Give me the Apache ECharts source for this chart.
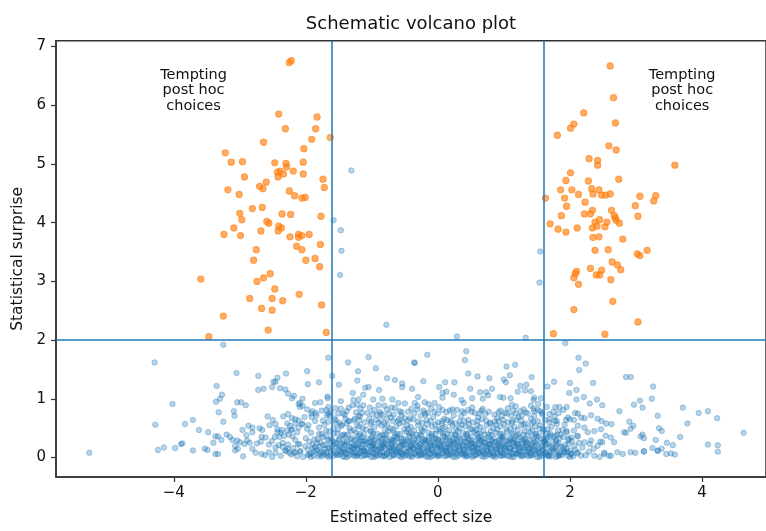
<!DOCTYPE html>
<html>
<head>
<meta charset="utf-8">
<script src="https://cdn.jsdelivr.net/npm/echarts@6/dist/echarts.min.js"></script>
<style>
html,body{margin:0;padding:0;background:#fff;}
#c{width:766px;height:531px;}
</style>
</head>
<body>
<div id="c"></div>
<script>
// ---- data (effect size, surprise) ----
const xTicks = [-4, -2, 0, 2, 4];
const yTicks = [0, 1, 2, 3, 4, 5, 6, 7];
const effectThresholds = [-1.6, 1.6];
const surpriseThreshold = 2;
const noteText = 'Tempting\npost hoc\nchoices';
const notePositions = [[-3.7, 6.25], [3.7, 6.25]];

const orangeLeft = [
[-2.25,6.73],[-2.22,6.76],[-2.41,5.85],[-1.83,5.80],[-2.31,5.60],[-1.85,5.60],[-1.63,5.45],[-1.91,5.42],[-2.64,5.37],[-2.03,5.26],
[-3.22,5.19],[-3.13,5.03],[-2.96,5.04],[-2.47,5.02],[-2.30,5.01],[-2.04,5.03],[-2.29,4.95],[-2.19,4.88],[-2.43,4.86],[-2.39,4.88],
[-2.34,4.83],[-2.42,4.78],[-2.04,4.83],[-2.93,4.78],[-2.60,4.69],[-2.70,4.62],[-2.65,4.58],[-1.74,4.74],[-1.72,4.60],[-3.18,4.56],
[-3.01,4.48],[-2.25,4.54],[-2.17,4.46],[-2.06,4.42],[-2.01,4.43],[-3.00,4.16],[-2.81,4.24],[-2.66,4.26],[-2.97,4.05],[-2.36,4.15],
[-2.23,4.14],[-1.77,4.11],[-2.59,4.02],[-2.56,3.99],[-3.09,3.91],[-2.41,3.94],[-2.37,3.91],[-2.42,3.86],[-2.68,3.86],[-3.24,3.80],
[-2.99,3.78],[-2.11,3.80],[-2.06,3.78],[-2.11,3.75],[-1.95,3.80],[-2.24,3.76],[-2.75,3.54],[-2.14,3.60],[-2.06,3.54],[-1.78,3.63],
[-2.79,3.36],[-2.00,3.36],[-1.86,3.39],[-1.79,3.25],[-3.59,3.04],[-2.54,3.13],[-2.64,3.06],[-2.74,3.00],[-2.47,2.87],[-2.85,2.71],
[-2.51,2.71],[-2.35,2.67],[-2.10,2.78],[-2.67,2.54],[-2.51,2.51],[-1.76,2.60],[-3.25,2.41],[-3.47,2.06],[-2.57,2.17],[-1.69,2.13]
];
const orangeRight = [
[2.61,6.67],[2.66,6.13],[2.21,5.87],[2.69,5.70],[2.06,5.68],[2.01,5.61],[1.81,5.49],[2.59,5.31],[2.70,5.24],[2.29,5.09],
[2.42,5.06],[2.42,4.98],[3.59,4.98],[2.01,4.85],[1.94,4.72],[2.28,4.71],[2.74,4.74],[1.86,4.56],[2.03,4.56],[2.33,4.58],
[2.35,4.49],[2.44,4.56],[2.13,4.48],[2.48,4.47],[2.54,4.47],[2.61,4.49],[3.06,4.45],[3.30,4.46],[1.63,4.42],[1.92,4.42],
[3.27,4.37],[2.99,4.29],[1.95,4.28],[2.23,4.35],[3.03,4.11],[1.87,4.12],[2.22,4.15],[2.31,4.15],[2.34,4.21],[2.63,4.21],
[2.67,4.12],[2.69,4.08],[2.70,4.04],[2.75,3.99],[2.45,4.05],[2.38,4.01],[2.41,3.94],[2.34,3.91],[2.53,3.93],[2.56,4.01],
[1.70,3.98],[1.82,3.89],[1.94,3.84],[2.11,3.91],[2.35,3.75],[2.44,3.76],[2.80,3.72],[2.38,3.53],[2.58,3.54],[3.02,3.47],
[3.06,3.44],[3.17,3.53],[2.64,3.33],[2.72,3.28],[2.77,3.20],[2.31,3.22],[2.48,3.19],[2.40,3.11],[2.45,3.11],[2.10,3.17],
[2.08,3.13],[2.06,3.06],[2.62,3.03],[2.13,2.95],[2.65,2.66],[2.06,2.52],[3.03,2.31],[1.75,2.11],[2.53,2.10]
];

// blue points read from the sparse parts of the cloud
const blueOuter = [
[-1.58,4.04],[-1.47,3.87],[-1.46,3.52],[-1.48,3.11],[-1.31,4.89],[1.55,3.51],[1.54,2.98],[-0.78,2.26],[0.29,2.06],[1.33,2.04],[-3.25,1.92],[1.93,1.95],
[-4.29,1.62],[-4.02,0.91],[-4.28,0.56],[-5.28,0.08],[-4.24,0.13],[-4.15,0.17],[-3.98,0.16],[-3.89,0.23],
[-3.05,1.44],[-2.72,1.39],[-2.30,1.43],[-2.43,1.36],[-2.49,1.29],[-2.46,1.29],[-2.51,1.20],[-3.35,1.22],[-2.39,1.18],[-2.31,1.16],[-2.72,1.15],[-2.64,1.17],[-2.27,1.09],[-2.18,1.05],[-2.21,1.01],[-3.27,1.07],[-3.30,1.00],[-3.36,0.95],[-3.04,0.94],[-2.98,0.94],[-2.91,0.89],[-3.09,0.79],[-3.32,0.77],[-3.08,0.71],[-3.25,0.61],[-2.58,0.70],[-2.50,0.64],[-2.34,0.70],[-2.27,0.74],[-2.21,0.67],[-3.71,0.64],[-3.83,0.57],[-3.62,0.47],[-3.48,0.43],[-2.87,0.54],[-2.81,0.51],[-2.70,0.50],[-2.81,0.43],[-2.96,0.47],[-2.55,0.55],[-2.46,0.57],[-2.43,0.48],[-2.66,0.47],[-3.20,0.39],[-3.15,0.35],[-3.11,0.30],[-2.90,0.38],[-3.37,0.36],[-3.33,0.36],[-3.40,0.25],[-3.28,0.30],[-3.87,0.24],[-3.71,0.12],[-3.53,0.15],[-3.49,0.13],[-3.37,0.06],[-3.33,0.06],[-3.07,0.20],[-3.03,0.15],[-3.07,0.12],[-3.00,0.26],[-2.93,0.23],[-3.04,0.29],[-2.89,0.29],[-2.85,0.25],[-2.81,0.15],[-2.76,0.08],[-2.67,0.06],[-2.67,0.35],[-2.61,0.34],[-2.68,0.27],[-2.74,0.24],[-2.56,0.22],[-2.51,0.28],[-2.47,0.35],[-2.40,0.35],[-2.38,0.42],[-2.33,0.37],[-2.26,0.39],[-2.20,0.36],[-2.13,0.43],[-2.16,0.30],[-2.41,0.21],[-2.35,0.18],[-2.27,0.22],[-2.19,0.16],[-2.12,0.22],[-2.31,0.12],[-2.25,0.08],[-2.16,0.09],[-2.09,0.11],[-2.46,0.08],[-2.28,0.58],[-2.24,0.54],[-2.16,0.58],[-2.11,0.51],[-2.21,0.48],[-2.28,0.46],[-2.36,0.47],[-2.43,0.43],[-2.11,0.91],[-2.09,0.86],
[-1.66,1.70],[-1.98,1.47],[-1.97,1.25],[-1.80,1.28],[-1.60,1.39],[-1.36,1.62],[-1.05,1.71],[-1.21,1.47],[-0.94,1.52],[-1.22,1.31],[-1.50,1.24],[-0.36,1.62],[-0.77,1.35],[-0.65,1.32],[-0.54,1.26],[-0.54,1.20],[-0.39,1.17],[-1.10,1.19],[-1.05,1.20],[-0.89,1.15],[-1.29,1.10],[-1.13,1.07],[-1.67,1.04],[-1.67,1.01],[-2.05,1.00],[-2.09,0.93],[-2.05,0.88],[-1.86,0.93],[-1.78,0.94],[-1.90,0.79],[-1.92,0.75],[-1.66,0.86],[-1.69,0.81],[-1.66,0.75],[-1.47,0.96],[-1.28,0.98],[-1.20,0.99],[-0.98,0.99],[-0.84,1.00],[-0.69,0.99],[-0.60,0.93],[-0.50,0.92],[-1.29,0.89],[-1.22,0.90],[-1.13,0.89],[-1.03,0.85],[-0.90,0.89],[-0.81,0.88],[-0.77,0.82],[-0.65,0.84],[-1.35,0.85],[-1.47,0.83],[-1.51,0.75],[-0.99,0.74],[-0.92,0.72],[-0.83,0.73],[-0.77,0.66],[-0.67,0.73],[-0.59,0.65],[-0.50,0.67],[-0.45,0.78],[-0.36,0.75],[-0.31,0.82],[-1.20,0.71],[-1.15,0.76],[-1.26,0.66],[-1.34,0.62],[-1.40,0.66],[-1.45,0.56],[-1.54,0.58],[-2.16,0.65],[-2.11,0.63],[-2.06,0.57],[-1.96,0.55],[-1.86,0.62],[-1.91,0.69],[-1.68,0.72],[-1.64,0.71],
[-0.16,1.75],[0.43,1.81],[0.41,1.66],[-0.35,1.61],[-0.22,1.30],[0.46,1.43],[0.60,1.38],[0.78,1.35],[0.11,1.28],[0.25,1.28],[0.02,1.20],[0.13,1.12],[0.07,1.10],[0.07,1.02],[0.24,1.07],[0.49,1.17],[0.52,1.01],[0.64,1.11],[0.73,1.11],[0.76,1.06],[0.82,1.17],[0.68,1.00],[1.04,1.55],[1.17,1.58],[1.09,1.40],[1.00,1.33],[1.03,1.28],[1.42,1.37],[1.25,1.22],[1.34,1.24],[1.32,1.14],[1.41,1.13],[1.45,0.98],[1.21,1.12],[0.94,1.03],[0.99,1.02],[1.10,1.01],[1.12,0.90],[1.18,0.87],[1.25,0.79],[1.41,0.88],[1.45,0.83],[-0.35,0.93],[-0.31,0.88],[-0.30,1.03],[-0.20,0.94],[-0.14,0.91],[-0.05,0.93],[0.36,0.98],[0.39,0.93],[0.29,0.81],[0.18,0.80],[0.07,0.81],[-0.05,0.78],[-0.15,0.76],[-0.26,0.71],[0.46,0.81],[0.56,0.76],[0.66,0.80],[0.77,0.78],[0.86,0.73],[0.97,0.71],[1.05,0.75],[1.14,0.80],[1.27,0.71],[1.36,0.75],[1.46,0.71],
[2.13,1.70],[2.24,1.60],[2.14,1.49],[2.85,1.37],[2.92,1.37],[1.76,1.29],[2.00,1.27],[2.35,1.27],[1.66,1.21],[3.26,1.21],[2.10,1.15],[1.99,1.10],[2.21,1.03],[2.10,0.99],[2.41,0.99],[3.24,1.00],[3.06,0.97],[2.30,0.92],[2.49,0.89],[2.97,0.90],[3.10,0.85],[1.46,1.02],[1.56,1.01],[1.52,0.91],[1.51,0.81],[1.46,0.79],[1.78,0.86],[1.84,0.86],[1.95,0.86],[1.83,0.76],[1.69,0.74],[1.69,0.65],[1.77,0.62],[2.08,0.76],[2.12,0.75],[2.17,0.68],[1.94,0.64],[2.00,0.65],[2.06,0.64],[2.22,0.67],[2.32,0.72],[2.42,0.66],[2.48,0.62],[2.55,0.58],[2.63,0.57],[2.75,0.79],[2.90,0.61],[2.96,0.54],[3.33,0.71],[2.82,0.43],[2.85,0.42],[3.07,0.36],[3.10,0.39],[2.92,0.49],[2.12,0.54],[2.22,0.51],[2.27,0.43],[2.37,0.45],[2.47,0.48],[2.54,0.37],[2.62,0.34],[2.67,0.26],[2.49,0.26],[2.42,0.20],[2.32,0.29],[2.22,0.26],[2.11,0.37],[2.02,0.34],[1.95,0.43],[1.82,0.46],[1.77,0.37],[1.66,0.34],[1.61,0.26],[2.37,0.03],[2.52,0.06],[2.59,0.03],[2.72,0.09],[2.80,0.06],[2.92,0.09],[2.99,0.08],[3.12,0.10],[3.25,0.16],[3.33,0.12],[2.12,0.09],[2.17,0.03],[2.02,0.06],[1.92,0.09],[1.82,0.03],[1.71,0.09],[1.66,0.03],
[3.71,0.85],[3.95,0.76],[4.09,0.79],[4.23,0.67],[3.78,0.58],[3.35,0.50],[3.39,0.45],[4.63,0.42],[3.67,0.35],[3.12,0.33],[3.30,0.30],[3.47,0.25],[3.56,0.21],[4.09,0.22],[4.24,0.21],[4.24,0.10],[3.33,0.11],[3.39,0.15],[3.12,0.11],[3.46,0.06],[3.53,0.07],[3.59,0.05]
];

// blue points estimated in the dense core of the cloud
const blueCore = [
[-2.95,0.02],[-2.62,0.04],[-2.51,0.01],[-2.38,0.03],[-2.22,0.05],[-2.13,0.02],[-2.04,0.01],[-1.97,0.04],[-1.88,0.03],[-1.81,0.02],[-1.73,0.05],[-1.66,0.01],[-1.58,0.03],[-1.51,0.04],[-1.44,0.02],[-1.37,0.01],[-1.29,0.05],[-1.22,0.03],[-1.16,0.02],[-1.08,0.04],[-1.01,0.01],[-0.94,0.03],[-0.87,0.05],[-0.80,0.02],[-0.73,0.01],[-0.66,0.04],[-0.59,0.03],[-0.52,0.02],[-0.46,0.05],[-0.39,0.01],[-0.31,0.03],[-0.25,0.04],[-0.18,0.02],[-0.11,0.01],[-0.04,0.05],[0.03,0.03],[0.10,0.02],[0.17,0.04],[0.23,0.01],[0.31,0.03],[0.38,0.05],[0.44,0.02],[0.52,0.01],[0.58,0.04],[0.66,0.03],[0.73,0.02],[0.79,0.05],[0.87,0.01],[0.94,0.03],[1.01,0.04],[1.08,0.02],[1.15,0.01],[1.22,0.05],[1.29,0.03],[1.36,0.02],[1.43,0.04],[1.50,0.01],[1.57,0.03],[1.64,0.05],[1.72,0.02],[1.79,0.01],[1.88,0.04],[1.97,0.03],[2.05,0.02],[2.24,0.04],[2.45,0.01],[2.62,0.03],
[-2.56,0.09],[-2.30,0.11],[-2.18,0.08],[-2.08,0.10],[-1.93,0.07],[-1.85,0.12],[-1.77,0.09],[-1.69,0.08],[-1.62,0.11],[-1.55,0.07],[-1.47,0.10],[-1.40,0.09],[-1.33,0.12],[-1.26,0.08],[-1.19,0.07],[-1.12,0.11],[-1.05,0.10],[-0.98,0.08],[-0.91,0.12],[-0.84,0.09],[-0.77,0.07],[-0.70,0.10],[-0.63,0.11],[-0.56,0.08],[-0.49,0.09],[-0.42,0.12],[-0.35,0.07],[-0.28,0.10],[-0.21,0.08],[-0.14,0.11],[-0.07,0.09],[0.00,0.07],[0.07,0.12],[0.14,0.10],[0.20,0.08],[0.27,0.09],[0.34,0.11],[0.41,0.07],[0.48,0.10],[0.55,0.12],[0.62,0.08],[0.69,0.09],[0.76,0.11],[0.83,0.07],[0.90,0.10],[0.97,0.08],[1.04,0.12],[1.11,0.09],[1.18,0.07],[1.25,0.11],[1.33,0.10],[1.40,0.08],[1.47,0.12],[1.54,0.09],[1.61,0.07],[1.68,0.10],[1.76,0.11],[1.84,0.08],[1.92,0.09],[2.01,0.12],[2.11,0.07],[2.29,0.10],[2.52,0.08],
[-2.46,0.17],[-2.27,0.15],[-2.01,0.19],[-1.90,0.16],[-1.79,0.18],[-1.71,0.14],[-1.60,0.20],[-1.53,0.17],[-1.45,0.15],[-1.35,0.19],[-1.28,0.16],[-1.20,0.18],[-1.13,0.14],[-1.03,0.20],[-0.96,0.17],[-0.89,0.15],[-0.82,0.19],[-0.74,0.16],[-0.67,0.18],[-0.61,0.14],[-0.53,0.20],[-0.44,0.17],[-0.37,0.15],[-0.30,0.19],[-0.22,0.16],[-0.16,0.18],[-0.09,0.14],[-0.02,0.20],[0.05,0.17],[0.12,0.15],[0.19,0.19],[0.25,0.16],[0.33,0.18],[0.40,0.14],[0.46,0.20],[0.54,0.17],[0.60,0.15],[0.68,0.19],[0.75,0.16],[0.81,0.18],[0.89,0.14],[0.96,0.20],[1.02,0.17],[1.10,0.15],[1.17,0.19],[1.24,0.16],[1.31,0.18],[1.39,0.14],[1.45,0.20],[1.53,0.17],[1.60,0.15],[1.69,0.19],[1.77,0.16],[1.86,0.18],[1.95,0.14],[2.07,0.20],[2.19,0.17],[2.36,0.15],
[-2.35,0.25],[-2.10,0.23],[-1.95,0.27],[-1.83,0.24],[-1.70,0.22],[-1.63,0.28],[-1.54,0.25],[-1.46,0.23],[-1.38,0.27],[-1.30,0.24],[-1.21,0.22],[-1.14,0.28],[-1.06,0.25],[-0.99,0.23],[-0.90,0.27],[-0.83,0.24],[-0.76,0.22],[-0.68,0.28],[-0.60,0.25],[-0.51,0.23],[-0.43,0.27],[-0.36,0.24],[-0.27,0.22],[-0.19,0.28],[-0.12,0.25],[-0.05,0.23],[0.02,0.27],[0.09,0.24],[0.16,0.22],[0.22,0.28],[0.29,0.25],[0.37,0.23],[0.43,0.27],[0.51,0.24],[0.57,0.22],[0.64,0.28],[0.72,0.25],[0.78,0.23],[0.86,0.27],[0.92,0.24],[0.99,0.22],[1.07,0.28],[1.13,0.25],[1.21,0.23],[1.28,0.27],[1.35,0.24],[1.42,0.22],[1.50,0.28],[1.58,0.25],[1.66,0.23],[1.74,0.27],[1.83,0.24],[1.93,0.22],[2.03,0.28],[2.14,0.25],[2.30,0.23],[2.46,0.27],
[-2.00,0.33],[-1.87,0.31],[-1.74,0.35],[-1.61,0.32],[-1.50,0.30],[-1.41,0.36],[-1.31,0.33],[-1.23,0.31],[-1.15,0.35],[-1.07,0.32],[-0.97,0.30],[-0.88,0.36],[-0.79,0.33],[-0.71,0.31],[-0.62,0.35],[-0.55,0.32],[-0.47,0.30],[-0.38,0.36],[-0.29,0.33],[-0.21,0.31],[-0.13,0.35],[-0.06,0.32],[0.01,0.30],[0.08,0.36],[0.15,0.33],[0.24,0.31],[0.31,0.35],[0.39,0.32],[0.47,0.30],[0.53,0.36],[0.61,0.33],[0.70,0.31],[0.77,0.35],[0.85,0.32],[0.93,0.30],[1.00,0.36],[1.09,0.33],[1.16,0.31],[1.23,0.35],[1.32,0.32],[1.40,0.30],[1.48,0.36],[1.56,0.33],[1.65,0.31],[1.75,0.35],[1.84,0.32],[1.98,0.30],[2.12,0.36],
[-1.92,0.42],[-1.76,0.40],[-1.64,0.44],[-1.52,0.41],[-1.42,0.39],[-1.32,0.45],[-1.24,0.42],[-1.12,0.40],[-1.02,0.44],[-0.93,0.41],[-0.85,0.39],[-0.75,0.45],[-0.66,0.42],[-0.57,0.40],[-0.48,0.44],[-0.40,0.41],[-0.32,0.39],[-0.23,0.45],[-0.14,0.42],[-0.04,0.40],[0.04,0.44],[0.13,0.41],[0.21,0.39],[0.30,0.45],[0.38,0.42],[0.45,0.40],[0.55,0.44],[0.63,0.41],[0.71,0.39],[0.80,0.45],[0.88,0.42],[0.97,0.40],[1.05,0.44],[1.14,0.41],[1.22,0.39],[1.31,0.45],[1.40,0.42],[1.49,0.40],[1.59,0.44],[1.70,0.41],[1.81,0.39],[1.95,0.45],
[-1.80,0.51],[-1.58,0.49],[-1.46,0.54],[-1.34,0.50],[-1.19,0.53],[-1.09,0.48],[-0.96,0.52],[-0.86,0.55],[-0.72,0.50],[-0.63,0.53],[-0.51,0.48],[-0.41,0.52],[-0.30,0.55],[-0.20,0.50],[-0.09,0.53],[0.02,0.48],[0.11,0.52],[0.22,0.55],[0.33,0.50],[0.42,0.53],[0.52,0.48],[0.64,0.52],[0.74,0.55],[0.84,0.50],[0.95,0.53],[1.04,0.48],[1.16,0.52],[1.26,0.55],[1.37,0.50],[1.47,0.53],[1.60,0.48],[1.72,0.52],
[-1.66,0.61],[-1.49,0.59],[-1.27,0.63],[-1.11,0.60],[-0.94,0.64],[-0.81,0.58],[-0.68,0.62],[-0.53,0.60],[-0.37,0.65],[-0.24,0.59],[-0.11,0.62],[0.00,0.60],[0.14,0.64],[0.27,0.58],[0.40,0.62],[0.53,0.60],[0.67,0.65],[0.79,0.59],[0.92,0.62],[1.06,0.60],[1.19,0.64],[1.33,0.58],[1.51,0.62],[1.69,0.60],
[-1.48,0.06],[-1.34,0.04],[-1.20,0.07],[-1.05,0.05],[-0.91,0.03],[-0.77,0.06],[-0.62,0.08],[-0.49,0.04],[-0.35,0.06],[-0.21,0.05],[-0.08,0.03],[0.06,0.07],[0.20,0.05],[0.35,0.06],[0.48,0.04],[0.62,0.08],[0.76,0.05],[0.90,0.06],[1.05,0.03],[1.19,0.07],[1.33,0.05],[1.47,0.06],
[-1.42,0.13],[-1.27,0.15],[-1.12,0.12],[-0.99,0.14],[-0.85,0.16],[-0.71,0.13],[-0.57,0.11],[-0.43,0.15],[-0.29,0.13],[-0.15,0.14],[-0.01,0.16],[0.12,0.12],[0.26,0.14],[0.39,0.13],[0.53,0.15],[0.67,0.11],[0.81,0.14],[0.95,0.13],[1.09,0.16],[1.23,0.12],[1.38,0.14],[1.52,0.13],
[-1.39,0.22],[-1.24,0.20],[-1.09,0.23],[-0.94,0.21],[-0.79,0.24],[-0.64,0.20],[-0.50,0.22],[-0.34,0.21],[-0.19,0.24],[-0.05,0.20],[0.10,0.22],[0.24,0.23],[0.38,0.20],[0.52,0.24],[0.66,0.21],[0.80,0.22],[0.94,0.20],[1.08,0.23],[1.22,0.21],[1.37,0.24],
[-1.26,0.30],[-1.10,0.28],[-0.94,0.31],[-0.78,0.29],[-0.62,0.32],[-0.45,0.28],[-0.30,0.30],[-0.15,0.29],[0.00,0.31],[0.18,0.28],[0.34,0.32],[0.50,0.29],[0.66,0.30],[0.82,0.28],[0.98,0.31],[1.14,0.29],[1.30,0.30]
];

// further blue points estimated in the crowded middle band
const blueMiddle = [
[-2.02,0.69],[-1.84,0.72],[-1.57,0.67],[-1.41,0.73],[-1.18,0.70],[-1.04,0.66],[-0.87,0.74],[-0.71,0.68],[-0.55,0.71],[-0.42,0.67],[-0.19,0.73],[-0.07,0.69],[0.10,0.66],[0.24,0.72],[0.35,0.70],[0.61,0.68],[0.72,0.74],[0.90,0.67],[1.11,0.71],[1.22,0.69],[1.41,0.66],[1.58,0.73],[1.77,0.70],[1.97,0.68],
[-2.22,0.47],[-1.98,0.49],[-1.69,0.46],[-1.51,0.48],[-1.27,0.47],[-1.14,0.50],[-1.01,0.46],[-0.80,0.48],[-0.68,0.47],[-0.45,0.49],[-0.36,0.46],[-0.25,0.48],[-0.02,0.47],[0.07,0.50],[0.17,0.46],[0.27,0.48],[0.49,0.49],[0.58,0.47],[0.69,0.46],[0.90,0.48],[1.10,0.50],[1.21,0.47],[1.43,0.46],[1.54,0.49],[1.66,0.48],[1.89,0.47],[2.06,0.46],
[-2.05,0.57],[-1.72,0.56],[-1.38,0.58],[-1.22,0.55],[-1.02,0.57],[-0.90,0.59],[-0.77,0.56],[-0.58,0.58],[-0.47,0.55],[-0.16,0.57],[-0.04,0.56],[0.06,0.58],[0.19,0.59],[0.36,0.56],[0.47,0.57],[0.60,0.55],[0.79,0.58],[0.88,0.56],[1.00,0.57],[1.12,0.59],[1.30,0.56],[1.42,0.58],[1.55,0.55],[1.80,0.57],[1.92,0.56],
[-1.98,0.82],[-1.76,0.80],[-1.55,0.84],[-1.38,0.79],[-1.17,0.83],[-0.96,0.81],[-0.70,0.85],[-0.58,0.79],[-0.40,0.83],[-0.22,0.80],[-0.10,0.84],[0.02,0.86],[0.22,0.82],[0.37,0.79],[0.52,0.85],[0.68,0.83],[0.95,0.80],[1.06,0.84],[1.30,0.82],[1.55,0.79],[1.65,0.86],[1.90,0.81],
[-1.92,0.01],[-1.76,0.02],[-1.63,0.03],[-1.41,0.01],[-1.26,0.02],[-1.12,0.03],[-0.97,0.01],[-0.84,0.02],[-0.69,0.03],[-0.56,0.01],[-0.43,0.02],[-0.28,0.03],[-0.15,0.01],[-0.01,0.02],[0.13,0.03],[0.27,0.01],[0.41,0.02],[0.55,0.03],[0.69,0.01],[0.83,0.02],[0.97,0.03],[1.12,0.01],[1.26,0.02],[1.40,0.03],[1.54,0.01],[1.68,0.02],[1.83,0.03],[2.00,0.01],
[-1.88,0.10],[-1.73,0.09],[-1.58,0.11],[-1.44,0.10],[-1.30,0.09],[-1.16,0.11],[-1.02,0.10],[-0.88,0.09],[-0.74,0.11],[-0.60,0.10],[-0.46,0.09],[-0.32,0.11],[-0.18,0.10],[-0.04,0.09],[0.10,0.11],[0.24,0.10],[0.38,0.09],[0.52,0.11],[0.66,0.10],[0.80,0.09],[0.94,0.11],[1.08,0.10],[1.22,0.09],[1.36,0.11],[1.50,0.10],[1.64,0.09],[1.80,0.11],[1.96,0.10],
[-1.86,0.18],[-1.66,0.17],[-1.49,0.19],[-1.31,0.18],[-1.16,0.17],[-1.00,0.19],[-0.86,0.18],[-0.71,0.17],[-0.57,0.19],[-0.41,0.18],[-0.27,0.17],[-0.12,0.19],[0.02,0.18],[0.16,0.17],[0.30,0.19],[0.44,0.18],[0.58,0.17],[0.72,0.19],[0.86,0.18],[1.00,0.17],[1.14,0.19],[1.28,0.18],[1.42,0.17],[1.57,0.19],[1.73,0.18],[1.90,0.17],
[-1.78,0.26],[-1.58,0.27],[-1.42,0.26],[-1.18,0.27],[-1.02,0.26],[-0.86,0.27],[-0.70,0.26],[-0.54,0.27],[-0.38,0.26],[-0.22,0.27],[-0.08,0.26],[0.06,0.27],[0.25,0.26],[0.40,0.27],[0.55,0.26],[0.70,0.27],[0.88,0.26],[1.03,0.27],[1.18,0.26],[1.33,0.27],[1.47,0.26],[1.62,0.27],[1.79,0.26],
[-1.69,0.36],[-1.45,0.38],[-1.20,0.37],[-1.00,0.35],[-0.82,0.38],[-0.65,0.36],[-0.43,0.37],[-0.25,0.38],[-0.09,0.36],[0.11,0.35],[0.27,0.38],[0.44,0.37],[0.63,0.36],[0.81,0.38],[0.97,0.35],[1.19,0.37],[1.36,0.38],[1.52,0.36],[1.70,0.37],[1.90,0.35]
];

// more blue points estimated where the cloud is darkest
const blueDense = [
[-1.95,0.05],[-1.79,0.06],[-1.68,0.04],[-1.53,0.05],[-1.39,0.06],[-1.23,0.04],[-1.10,0.05],[-0.95,0.06],[-0.81,0.04],[-0.67,0.05],[-0.54,0.06],[-0.40,0.04],[-0.26,0.05],[-0.12,0.06],[0.01,0.04],[0.15,0.05],[0.29,0.06],[0.43,0.04],[0.57,0.05],[0.71,0.06],[0.85,0.04],[0.99,0.05],[1.13,0.06],[1.27,0.04],[1.41,0.05],[1.55,0.06],[1.69,0.04],[1.85,0.05],[2.02,0.06],
[-1.97,0.14],[-1.82,0.13],[-1.64,0.15],[-1.50,0.14],[-1.36,0.13],[-1.22,0.15],[-1.08,0.14],[-0.94,0.13],[-0.80,0.15],[-0.66,0.14],[-0.52,0.13],[-0.38,0.15],[-0.24,0.14],[-0.10,0.13],[0.04,0.15],[0.18,0.14],[0.32,0.13],[0.46,0.15],[0.60,0.14],[0.74,0.13],[0.88,0.15],[1.02,0.14],[1.16,0.13],[1.30,0.15],[1.44,0.14],[1.59,0.13],[1.74,0.15],[1.90,0.14],[2.08,0.13],
[-1.90,0.22],[-1.74,0.21],[-1.56,0.23],[-1.42,0.22],[-1.27,0.21],[-1.13,0.23],[-0.98,0.22],[-0.84,0.21],[-0.70,0.23],[-0.55,0.22],[-0.41,0.21],[-0.26,0.23],[-0.11,0.22],[0.04,0.21],[0.19,0.23],[0.33,0.22],[0.48,0.21],[0.62,0.23],[0.77,0.22],[0.91,0.21],[1.05,0.23],[1.20,0.22],[1.34,0.21],[1.49,0.23],[1.64,0.22],[1.80,0.21],[1.98,0.23],
[-1.82,0.31],[-1.66,0.30],[-1.49,0.32],[-1.33,0.31],[-1.17,0.30],[-1.01,0.32],[-0.85,0.31],[-0.69,0.30],[-0.52,0.32],[-0.36,0.31],[-0.19,0.30],[-0.03,0.32],[0.13,0.31],[0.29,0.30],[0.46,0.32],[0.62,0.31],[0.79,0.30],[0.95,0.32],[1.11,0.31],[1.27,0.30],[1.44,0.32],[1.61,0.31],[1.79,0.30],[1.98,0.32],
[-1.80,0.40],[-1.58,0.41],[-1.37,0.39],[-1.18,0.40],[-0.98,0.41],[-0.78,0.39],[-0.61,0.40],[-0.44,0.41],[-0.27,0.39],[-0.09,0.40],[0.08,0.41],[0.26,0.39],[0.43,0.40],[0.60,0.41],[0.77,0.39],[0.94,0.40],[1.12,0.41],[1.30,0.39],[1.48,0.40],[1.66,0.41],[1.86,0.39],
[-1.74,0.63],[-1.55,0.64],[-1.36,0.62],[-1.19,0.63],[-1.01,0.61],[-0.86,0.64],[-0.61,0.62],[-0.45,0.63],[-0.30,0.61],[-0.17,0.64],[0.07,0.62],[0.20,0.63],[0.33,0.61],[0.46,0.64],[0.60,0.62],[0.73,0.63],[0.86,0.61],[0.99,0.64],[1.13,0.62],[1.26,0.63],[1.45,0.61],[1.62,0.64],[1.80,0.62],
[-1.85,0.76],[-1.62,0.77],[-1.44,0.75],[-1.24,0.77],[-1.07,0.76],[-0.88,0.78],[-0.74,0.75],[-0.55,0.77],[-0.20,0.76],[0.00,0.75],[0.13,0.77],[0.40,0.76],[0.51,0.78],[0.63,0.75],[0.92,0.77],[1.02,0.76],[1.18,0.75],[1.33,0.77],[1.58,0.76],[1.75,0.78]
];

// ---- chart ----
const FONT = 'DejaVu Sans';
const TXT = '#111111';
const SPINE = '#333333';
const fmt = v => (v < 0 ? '\u2212' + Math.abs(v) : String(v));

const chart = echarts.init(document.getElementById('c'), null, {renderer: 'canvas'});
chart.setOption({
  animation: false,
  backgroundColor: '#ffffff',
  title: {
    text: 'Schematic volcano plot',
    left: 406, top: 10, textAlign: 'center',
    textStyle: {fontFamily: FONT, fontSize: 18, fontWeight: 'normal', color: TXT}
  },
  grid: {left: 56, top: 40.7, right: -3, bottom: 49.3, show: true, borderColor: SPINE, borderWidth: 1.5, backgroundColor: 'transparent'},
  xAxis: {
    type: 'value', min: -5.784, max: 4.97,
    name: 'Estimated effect size', nameLocation: 'middle', nameGap: 33,
    nameTextStyle: {fontFamily: FONT, fontSize: 15.5, color: TXT},
    axisLine: {show: true, onZero: false, lineStyle: {color: SPINE, width: 1.5}},
    axisTick: {show: true, length: 5, customValues: xTicks, lineStyle: {color: SPINE, width: 1.2}},
    axisLabel: {customValues: xTicks, formatter: fmt, fontFamily: FONT, fontSize: 15, color: TXT, margin: 9},
    splitLine: {show: false}
  },
  yAxis: {
    type: 'value', min: -0.332, max: 7.10,
    name: 'Statistical surprise', nameLocation: 'middle', nameGap: 24,
    nameTextStyle: {fontFamily: FONT, fontSize: 15.5, color: TXT},
    axisLine: {show: true, onZero: false, lineStyle: {color: SPINE, width: 1.5}},
    axisTick: {show: true, length: 5, customValues: yTicks, lineStyle: {color: SPINE, width: 1.2}},
    axisLabel: {customValues: yTicks, formatter: fmt, fontFamily: FONT, fontSize: 15, color: TXT, margin: 10},
    splitLine: {show: false}
  },
  series: [
    {
      type: 'scatter', name: 'null', data: blueOuter.concat(blueCore, blueMiddle, blueDense),
      symbol: 'circle', symbolSize: 5.5, progressive: 0, large: false, largeThreshold: 100000,
      itemStyle: {color: 'rgba(31,119,180,0.4)', borderColor: 'rgba(31,119,180,0.4)', borderWidth: 1},
      emphasis: {disabled: true}, z: 2
    },
    {
      type: 'scatter', name: 'tempting', data: orangeLeft.concat(orangeRight),
      symbol: 'circle', symbolSize: 6.3, progressive: 0,
      itemStyle: {color: 'rgba(255,127,14,0.8)', borderColor: 'rgba(255,127,14,0.8)', borderWidth: 1},
      emphasis: {disabled: true}, z: 3,
      markLine: {
        silent: true, symbol: 'none', animation: false,
        label: {show: false},
        lineStyle: {color: '#1f77b4', width: 1.5, type: 'solid', opacity: 1},
        data: effectThresholds.map(v => ({xAxis: v})).concat([{yAxis: surpriseThreshold}])
      }
    },
    {
      type: 'scatter', name: 'notes', symbolSize: 1, silent: true,
      itemStyle: {color: 'rgba(0,0,0,0)'},
      data: notePositions.map(p => ({value: p, name: noteText})),
      label: {
        show: true, position: 'inside', formatter: '{b}', opacity: 1, textBorderWidth: 0,
        fontFamily: FONT, fontSize: 14.5, lineHeight: 15.5, color: TXT, align: 'center', verticalAlign: 'middle'
      },
      z: 4
    }
  ]
});
</script>
</body>
</html>
